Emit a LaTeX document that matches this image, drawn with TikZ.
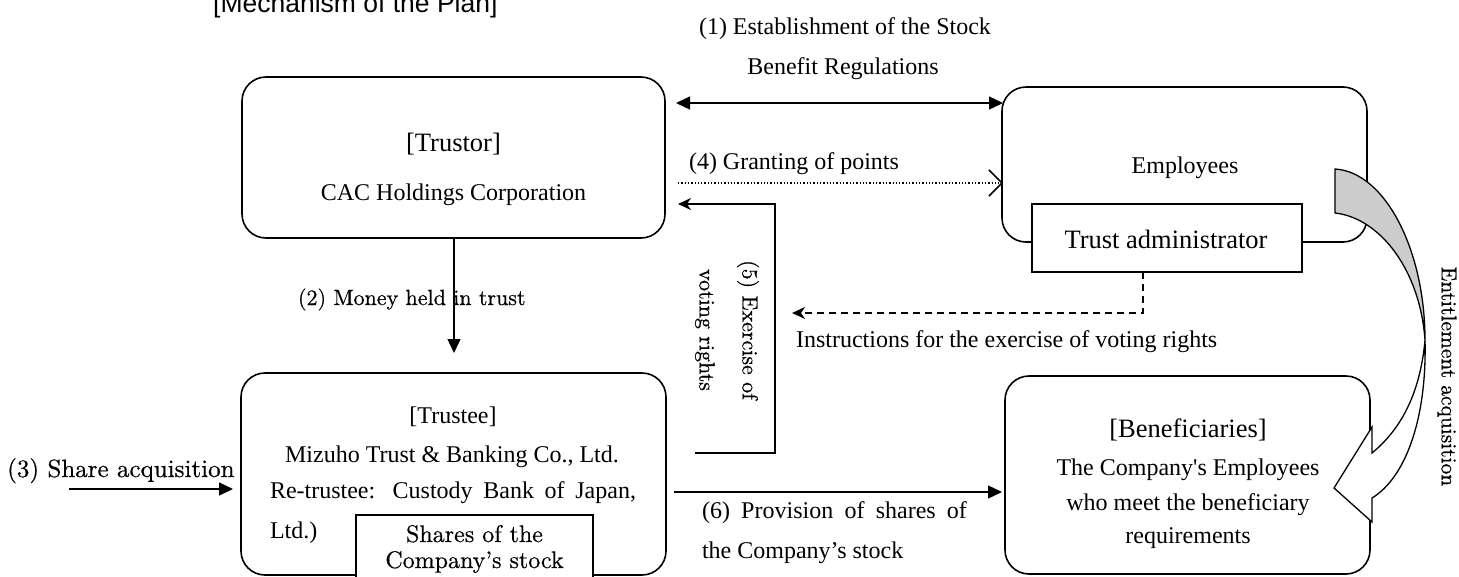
\documentclass[tikz,border=0pt]{standalone}
\usepackage{fontspec}
\newfontfamily\tnr{Liberation Serif}
\newfontfamily\arialf{Liberation Sans}
\newfontfamily\lmb{lmroman10-regular.otf}[FakeBold=0.5]
\usetikzlibrary{arrows.meta}
\begin{document}
\begin{tikzpicture}[x=1pt,y=-1pt,
  box/.style={draw, line width=1.6pt, rounded corners=24pt, inner sep=0pt, outer sep=0pt},
  sqbox/.style={draw, line width=1.6pt, fill=white, inner sep=0pt, outer sep=0pt},
  txt/.style={inner sep=0pt, outer sep=0pt, font=\tnr\fontsize{24}{28}\selectfont},
  head/.style={inner sep=0pt, outer sep=0pt, font=\tnr\fontsize{26.5}{30}\selectfont},
  lmtxt/.style={inner sep=0pt, outer sep=0pt, font=\lmb\fontsize{22}{26}\selectfont},
  conn/.style={line width=1.3pt},
  tri/.style={-{Triangle[length=14pt,width=13pt]}},
  stl/.style={-{Stealth[length=13pt,width=12pt,inset=4pt]}},
  barb/.style={-{Straight Barb[length=13pt,width=26pt,line width=1.5pt]}},
]
\useasboundingbox (0,0) rectangle (1459,576);

% title
\node[anchor=base west, inner sep=0pt, font=\arialf\fontsize{26.5}{30}\selectfont] (title) at (213,12) {[Mechanism of the Plan]};

% boxes
\node[box, minimum width=423pt, minimum height=161pt] (trustor) at (453.5,157.5) {};
\node[box, minimum width=365pt, minimum height=155pt] (emp) at (1184.5,164.5) {};
\node[sqbox, minimum width=270pt, minimum height=68pt] (tadmin) at (1167,238) {};
\node[box, minimum width=425pt, minimum height=202pt] (trustee) at (453.5,474) {};
\node[sqbox, minimum width=237pt, minimum height=65pt] (shares) at (474.5,547.5) {};
\node[box, minimum width=365pt, minimum height=198pt] (benef) at (1187.5,475) {};

% box texts
\node[head, anchor=base] (trustorh) at (453.5,151) {[Trustor]};
\node[txt, anchor=base] (trustort) at (453.5,200) {CAC Holdings Corporation};
\node[txt, anchor=base] (empt) at (1185,173) {Employees};
\node[head, anchor=base] (tadmint) at (1166,248) {Trust administrator};
\node[txt, anchor=base] (trusteeh) at (453,423) {[Trustee]};
\node[txt, anchor=base] (trustee1) at (452,462) {Mizuho Trust \& Banking Co., Ltd.};
\node[txt, anchor=base west] (trustee2) at (270,498) {\makebox[366pt][s]{Re-trustee: Custody Bank of Japan,}};
\node[txt, anchor=base west] (trustee3) at (270,538) {Ltd.)};
\node[inner sep=0pt, font=\lmb\fontsize{24}{26}\selectfont, anchor=base] (shares1) at (474.5,542) {Shares of the};
\node[inner sep=0pt, font=\lmb\fontsize{24}{26}\selectfont, anchor=base] (shares2) at (474.5,568) {Company’s stock};
\node[head, anchor=base] (benefh) at (1188,437) {[Beneficiaries]};
\node[txt, anchor=base] (benef1) at (1188,475) {The Company's Employees};
\node[txt, anchor=base] (benef2) at (1188,510) {who meet the beneficiary};
\node[txt, anchor=base] (benef3) at (1188,543) {requirements};

% (1)
\coordinate (c1a) at (676,103);
\coordinate (c1b) at (1003,103);
\draw[conn, {Triangle[length=14pt,width=13pt]}-{Triangle[length=14pt,width=13pt]}] (c1a) -- (c1b);
\node[txt, anchor=base west] (l1a) at (699,34) {(1) Establishment of the Stock};
\node[txt, anchor=base] (l1b) at (843,74) {Benefit Regulations};

% (4)
\coordinate (c4a) at (678,183);
\coordinate (c4b) at (1003,183);
\draw[conn, dotted] (c4a) -- (c4b);
\draw[conn, barb] ([xshift=-2pt]c4b) -- (c4b);
\node[txt, anchor=base west] (l4) at (689,169) {(4) Granting of points};

% (5)
\coordinate (c5a) at (695,453);
\coordinate (c5b) at (775,453);
\coordinate (c5c) at (775,204);
\coordinate (c5d) at (678,204);
\draw[conn, stl] (c5a) -- (c5b) -- (c5c) -- (c5d);
\node[lmtxt, rotate=-90, align=center, font=\lmb\fontsize{22}{43}\selectfont] (l5) at (727,330) {(5) Exercise of\\voting rights};

% instructions
\coordinate (cia) at (1143,272);
\coordinate (cib) at (1143,313);
\coordinate (cic) at (792,313);
\draw[conn, dashed, dash pattern=on 7pt off 5pt, stl] (cia) -- (cib) -- (cic);
\node[txt, anchor=base west] (li) at (796,347) {Instructions for the exercise of voting rights};

% (2)
\coordinate (c2b) at (454,353);
\draw[conn, tri] (trustor.south -| c2b) -- (c2b);
\node[lmtxt, anchor=base west] (l2) at (298,305) {(2) Money held in trust};

% (3)
\coordinate (c3a) at (69,489);
\coordinate (c3b) at (233,489);
\draw[conn, tri] (c3a) -- (c3b);
\node[inner sep=0pt, font=\lmb\fontsize{25}{28}\selectfont, anchor=base west] (l3) at (7,477) {(3) Share acquisition};

% (6)
\coordinate (c6a) at (674,492);
\coordinate (c6b) at (1002,492);
\draw[conn, tri] (c6a) -- (c6b);
\node[txt, anchor=base west] (l6a) at (702,518) {\makebox[265pt][s]{(6) Provision of shares of}};
\node[txt, anchor=base west] (l6b) at (702,558) {the Company’s stock};

% curved arrow: entitlement acquisition
\draw[line width=1.3pt, fill=gray!40, line join=round] (1335,169) .. controls (1385,172) and (1425,250) .. (1425,340) .. controls (1420,270) and (1380,218) .. (1335,213) -- cycle;
\draw[line width=1.3pt, fill=white, line join=miter] (1425,340) .. controls (1427,420) and (1405,478) .. (1372,498) -- (1372,522) -- (1334,488) -- (1372,427) -- (1372,453) .. controls (1400,430) and (1420,395) .. (1425,340) -- cycle;
\node[inner sep=0pt, rotate=-90, font=\lmb\fontsize{21.5}{24}\selectfont] (le) at (1447,376.5) {Entitlement acquisition};
\end{tikzpicture}
\end{document}
